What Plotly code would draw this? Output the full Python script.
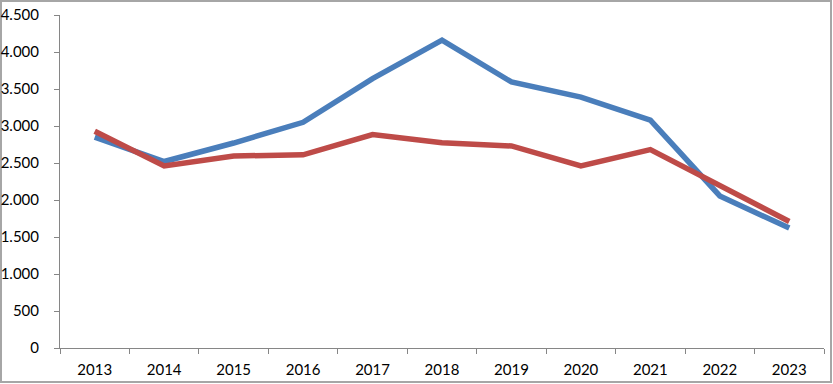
import plotly.graph_objects as go

years = ["2013", "2014", "2015", "2016", "2017", "2018", "2019", "2020", "2021", "2022", "2023"]
blue_values = [2850, 2520, 2770, 3050, 3640, 4160, 3595, 3390, 3080, 2055, 1620]
red_values = [2930, 2460, 2595, 2610, 2885, 2775, 2730, 2460, 2680, 2200, 1710]
y_ticks = [0, 500, 1000, 1500, 2000, 2500, 3000, 3500, 4000, 4500]

W, H = 833, 384
L, R, T, B = 60, 9, 15, 36
pw, ph = W - L - R, H - T - B

fig = go.Figure()
fig.add_trace(go.Scatter(x=years, y=blue_values, mode="lines",
                         line=dict(color="#4a7ebb", width=5.5), showlegend=False))
fig.add_trace(go.Scatter(x=years, y=red_values, mode="lines",
                         line=dict(color="#be4b48", width=5.5), showlegend=False))

def px_x(p):
    return (p - L) / pw

def px_y(p):
    return (H - B - p) / ph

fig.add_shape(type="rect", xref="paper", yref="paper",
              x0=px_x(1), x1=px_x(831), y0=px_y(382), y1=px_y(1),
              line=dict(color="#a6a6a6", width=2), layer="below")

fig.update_layout(
    width=W, height=H,
    margin=dict(l=L, r=R, t=T, b=B),
    paper_bgcolor="white", plot_bgcolor="white",
    separators=",.",
    font=dict(family="Lato, Liberation Sans, sans-serif", size=15, color="#000000"),
    xaxis=dict(type="category", range=[-0.5, 10.5], showgrid=False,
               showline=True, linecolor="#868686", linewidth=1,
               ticks="outside", tickson="boundaries", ticklen=5, tickcolor="#868686",
               ticklabelstandoff=8, zeroline=False, fixedrange=True, automargin=False),
    yaxis=dict(range=[0, 4500], tickvals=y_ticks, tickformat=",d", showgrid=False,
               showline=True, linecolor="#868686", linewidth=1,
               ticks="outside", ticklen=5, tickcolor="#868686",
               ticklabelstandoff=12, zeroline=False, fixedrange=True, automargin=False),
)

fig.write_html("out.html", config={"displayModeBar": False},
               post_script="document.body.style.margin='0';document.body.style.padding='0';")
